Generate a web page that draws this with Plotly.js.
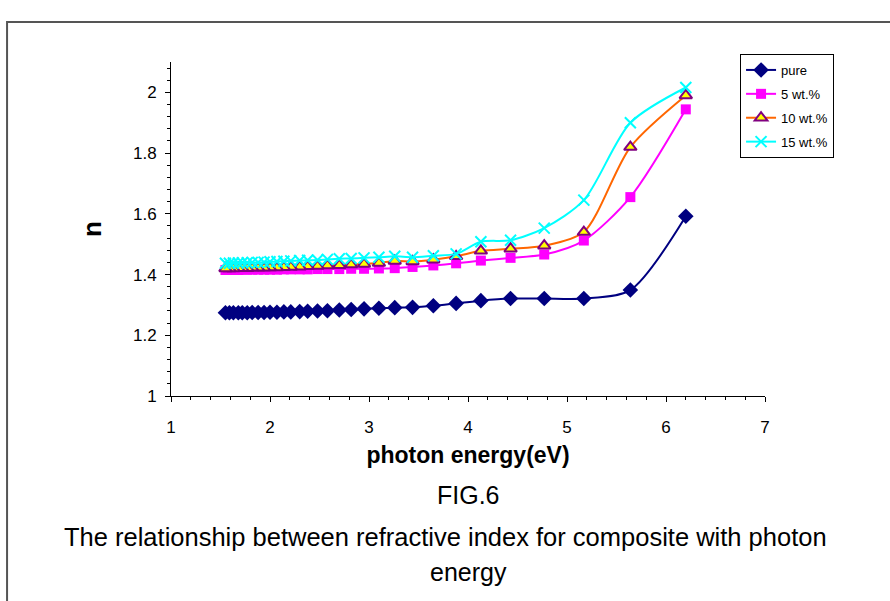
<!DOCTYPE html>
<html>
<head>
<meta charset="utf-8">
<script src="https://cdn.plot.ly/plotly-3.0.1.min.js"></script>
<style>html,body{margin:0;padding:0;background:#fff;}#chart{width:890px;height:601px;}</style>
</head>
<body>
<div id="chart"></div>
<script>
// photon energy (eV)
const energy = [6.20,5.64,5.17,4.77,4.43,4.13,3.88,3.65,3.44,3.26,3.10,2.95,2.82,2.70,2.58,2.48,2.38,2.30,2.21,2.14,2.07,2.00,1.94,1.88,1.82,1.77,1.72,1.68,1.63,1.59,1.55];
const nPure = [1.592,1.349,1.321,1.321,1.321,1.314,1.305,1.297,1.292,1.291,1.289,1.287,1.285,1.283,1.281,1.280,1.279,1.278,1.277,1.277,1.276,1.276,1.275,1.275,1.275,1.274,1.274,1.274,1.274,1.274,1.274];
const n5 = [1.944,1.655,1.512,1.466,1.455,1.446,1.437,1.430,1.425,1.421,1.420,1.419,1.419,1.418,1.418,1.418,1.417,1.417,1.417,1.417,1.416,1.416,1.416,1.416,1.416,1.416,1.416,1.415,1.415,1.415,1.415];
const n10 = [1.990,1.820,1.540,1.495,1.485,1.478,1.460,1.449,1.443,1.445,1.438,1.435,1.433,1.431,1.430,1.428,1.427,1.426,1.425,1.424,1.423,1.423,1.422,1.422,1.422,1.421,1.421,1.421,1.420,1.420,1.420];
const n15 = [2.016,1.900,1.645,1.553,1.513,1.508,1.468,1.462,1.457,1.460,1.457,1.455,1.453,1.452,1.450,1.448,1.447,1.446,1.445,1.444,1.443,1.442,1.441,1.440,1.440,1.439,1.439,1.438,1.438,1.437,1.437];
const seriesNames = ['pure','5 wt.%','10 wt.%','15 wt.%'];
const xTitle = 'photon energy(eV)';
const yTitle = 'n';
const figLabel = 'FIG.6';
const captionLine1 = 'The relationship between refractive index for composite with photon';
const captionLine2 = 'energy';

const FONT = 'Arial, "Liberation Sans", sans-serif';
const traces = [
  {x: energy, y: nPure, name: seriesNames[0], legendgroup: 'a', mode: 'lines+markers',
   line: {color: '#000080', width: 2, shape: 'spline', smoothing: 0.8},
   marker: {symbol: 'diamond', size: 12, color: '#000080'}},
  {x: energy, y: n5, name: seriesNames[1], legendgroup: 'b', mode: 'lines+markers',
   line: {color: '#FF00FF', width: 2, shape: 'spline', smoothing: 0.8},
   marker: {symbol: 'square', size: 10, color: '#FF00FF'}},
  {x: energy, y: n10, name: seriesNames[2], legendgroup: 'c', mode: 'lines+markers',
   line: {color: '#FF6600', width: 2, shape: 'spline', smoothing: 0.8},
   marker: {symbol: 'triangle-up', size: 11, color: '#FFFF00', line: {color: '#800080', width: 2}}},
  {x: energy, y: n15, name: seriesNames[3], legendgroup: 'd', mode: 'lines+markers',
   line: {color: '#00FFFF', width: 2, shape: 'spline', smoothing: 0.8},
   marker: {symbol: 'x-thin-open', size: 11, color: '#00FFFF', line: {color: '#00FFFF', width: 2}}}
];

const layout = {
  width: 890, height: 601,
  margin: {l: 171, r: 125, t: 62, b: 205},
  paper_bgcolor: '#fff', plot_bgcolor: '#fff',
  font: {family: FONT, color: '#000', size: 16},
  showlegend: true,
  legend: {x: 0.958, y: 1.024, xanchor: 'left', yanchor: 'top',
    bordercolor: '#000', borderwidth: 1, bgcolor: '#fff',
    font: {family: FONT, size: 13, color: '#000'}, tracegroupgap: 4, itemwidth: 30,
    entrywidth: 78},
  xaxis: {range: [1, 7], dtick: 1, tick0: 1, showgrid: false, zeroline: false,
    showline: true, linecolor: '#000', linewidth: 1,
    ticks: 'outside', ticklen: 5, tickcolor: '#000',
    minor: {dtick: 0.2, ticks: 'outside', ticklen: 3, tickcolor: '#000', showgrid: false},
    tickfont: {size: 17, family: FONT}, ticklabelstandoff: 11,
    title: {text: '<b>' + xTitle + '</b>', font: {size: 23, family: FONT}, standoff: 10}},
  yaxis: {range: [1, 2.1], dtick: 0.2, tick0: 1, showgrid: false, zeroline: false,
    showline: true, linecolor: '#000', linewidth: 1,
    ticks: 'outside', ticklen: 5, tickcolor: '#000',
    minor: {dtick: 0.04, ticks: 'outside', ticklen: 3, tickcolor: '#000', showgrid: false},
    tickfont: {size: 17, family: FONT}, ticklabelstandoff: 5,
    title: {text: '<b>' + yTitle + '</b>', font: {size: 26, family: FONT}, standoff: 23}},
  annotations: [
    {text: figLabel, xref: 'paper', yref: 'paper', x: 0.5, y: -0.296, xanchor: 'center', yanchor: 'middle', showarrow: false, font: {size: 25, family: FONT}},
    {text: captionLine1, xref: 'paper', yref: 'paper', x: 0.5, y: -0.422, xanchor: 'center', yanchor: 'middle', showarrow: false, font: {size: 25.5, family: FONT}, xshift: -23},
    {text: captionLine2, xref: 'paper', yref: 'paper', x: 0.5, y: -0.527, xanchor: 'center', yanchor: 'middle', showarrow: false, font: {size: 25, family: FONT}}
  ],
  shapes: [
    {type: 'rect', xref: 'paper', yref: 'paper', x0: -0.276, x1: 1.22, y0: -0.7, y1: 1.12,
     line: {color: '#555', width: 2}, fillcolor: 'rgba(0,0,0,0)', layer: 'below'}
  ]
};
Plotly.newPlot('chart', traces, layout, {displayModeBar: false, staticPlot: true});
</script>
</body>
</html>
